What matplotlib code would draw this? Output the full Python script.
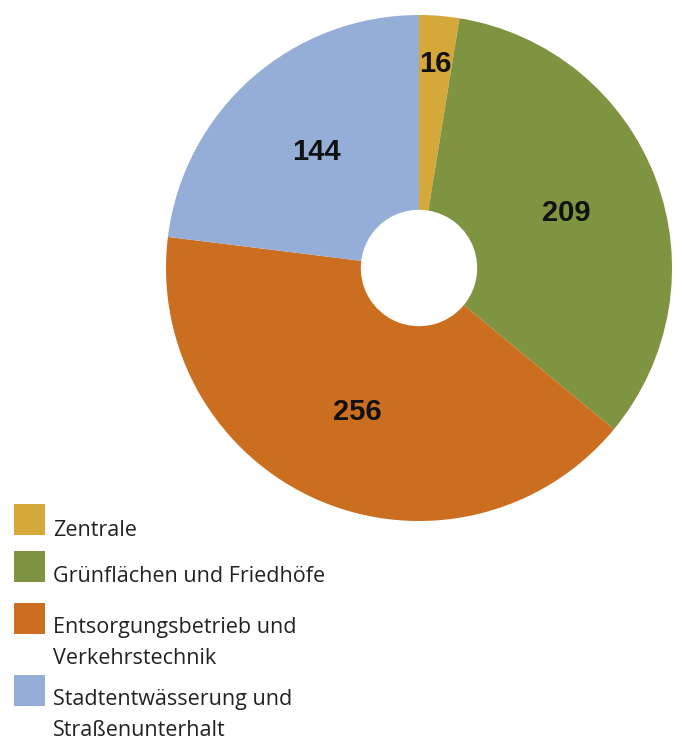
import matplotlib.pyplot as plt
from matplotlib.patches import Rectangle
import numpy as np

# Data
labels = ["Zentrale", "Grünflächen und Friedhöfe",
          "Entsorgungsbetrieb und\nVerkehrstechnik",
          "Stadtentwässerung und\nStraßenunterhalt"]
values = [16, 209, 256, 144]
colors = ["#D4A93A", "#7F9440", "#CC6E20", "#94AED8"]
label_dist = [0.81, 0.62, 0.62, 0.61]

W, H = 683, 736
fig = plt.figure(figsize=(W / 100, H / 100), dpi=100)

# pie centre (419, 268) px, radius 253 px
cx, cy, R = 419, 268, 253
ax = fig.add_axes([(cx - R) / W, (H - cy - R) / H, 2 * R / W, 2 * R / H])
wedges, _ = ax.pie(values, colors=colors, startangle=90, counterclock=False,
                   radius=1, wedgeprops=dict(width=0.77, linewidth=0))
ax.set_xlim(-1, 1)
ax.set_ylim(-1, 1)
ax.set_aspect("equal")
ax.axis("off")

for w, v, d in zip(wedges, values, label_dist):
    ang = np.deg2rad((w.theta1 + w.theta2) / 2)
    ax.text(d * np.cos(ang), d * np.sin(ang), str(v), ha="center", va="center",
            fontsize=21, fontweight="bold", family="Liberation Sans", color="#111111")

# legend: square tops and first-line baselines in px
sq_top = [504, 551, 603, 675]
base_y = [536, 582, 633, 705]
for top, by, lab, c in zip(sq_top, base_y, labels, colors):
    fig.patches.append(Rectangle((14 / W, (H - top - 31) / H), 31 / W, 31 / H,
                                 transform=fig.transFigure, color=c, lw=0))
    for i, line in enumerate(lab.split("\n")):
        fig.text(53 / W, (H - by - 31 * i) / H, line, ha="left", va="baseline",
                 fontsize=15.5, family="Open Sans", color="#222222")

fig.savefig("out.png", dpi=100)
